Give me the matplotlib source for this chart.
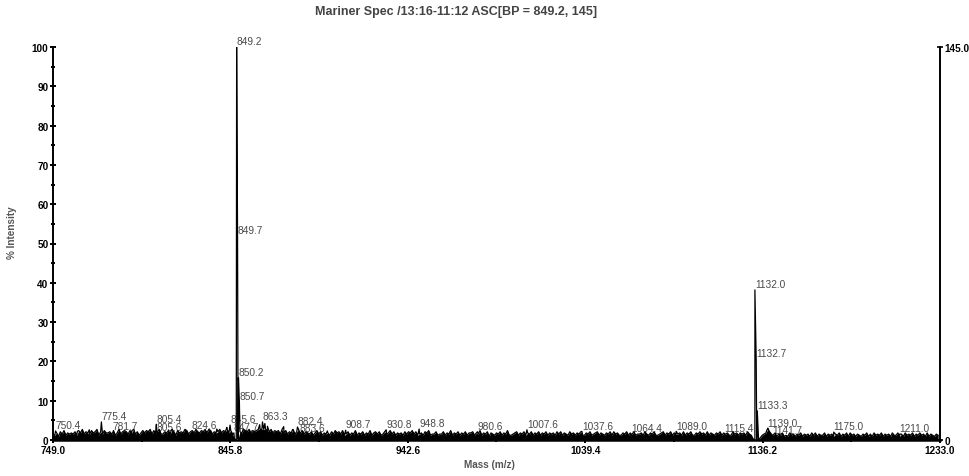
import matplotlib
matplotlib.use('Agg')
import matplotlib.pyplot as plt
import numpy as np

plt.rcParams['font.family'] = ['Liberation Sans', 'DejaVu Sans']

# baseline noise, one digit per m/z unit starting at 749, unit = 0.3 %
NOISE_START = 749
NOISE_UNIT = 0.3
noise_digits = (
    "5463758465" "6574869576" "5867947586" "6758469578" "7586957468"
    "6879586795" "5768597486" "7698578697" "6879698576" "7968796851"
    "0176987968" "7899999879" "6878596857" "6957968576" "5746857465"
    "6475867584" "5746584657" "4658467574" "5756857465" "6475768574"
    "5647684557" "4557465846" "5746574667" "4658465736" "5465746584"
    "4567465746" "5746574657" "4656475746" "5475646574" "4657456746"
    "5465747564" "4657465745" "5647546574" "4567465746" "5564746574"
    "4657564746" "5465746564" "4756465647" "5410002456" "9754635463"
    "4364535463" "5453646354" "4635453546" "3546364535" "4354635364"
    "5463545364" "4635364546" "3546453635" "4354"
)

# labelled peaks (m/z, % intensity)
peak_mz = [750.4, 775.4, 781.7, 805.4, 805.6, 824.6, 845.6, 847.7,
           849.2, 849.7, 850.2, 850.7, 863.3, 882.4, 883.6, 908.7,
           930.8, 948.8, 980.6, 1007.6, 1037.6, 1064.4, 1089.0, 1115.4,
           1132.0, 1132.7, 1133.3, 1139.0, 1141.7, 1175.0, 1211.0]
peak_int = [2.3, 4.6, 2.0, 4.0, 1.8, 2.3, 3.8, 1.8,
            100.0, 52.0, 15.8, 9.7, 4.6, 3.3, 1.7, 2.5,
            2.6, 2.8, 2.1, 2.6, 2.2, 1.5, 2.2, 1.6,
            38.2, 20.6, 7.4, 3.0, 1.2, 2.0, 1.5]

# unlabelled spikes
spike_mz = [762.3, 768.8, 792.1, 813.5, 838.4, 843.9, 861.8, 864.6,
            866.0, 874.9, 879.7, 898.7, 1138.6]
spike_int = [2.2, 2.6, 2.4, 2.5, 2.8, 3.2, 3.9, 4.2,
             3.5, 3.4, 2.6, 2.3, 2.6]

x_ticks = [749.0, 845.8, 942.6, 1039.4, 1136.2, 1233.0]
title = "Mariner Spec /13:16-11:12 ASC[BP = 849.2, 145]"
base_peak = 145.0

noise = np.array([int(c) for c in noise_digits]) * NOISE_UNIT
noise_mz = NOISE_START + np.arange(len(noise))

mz = np.concatenate([noise_mz, peak_mz, spike_mz])
inten = np.concatenate([noise, peak_int, spike_int])
order = np.argsort(mz, kind='stable')
mz, inten = mz[order], inten[order]

W, H = 970, 477
fig = plt.figure(figsize=(W / 100, H / 100), dpi=100)
ax = fig.add_axes([53 / W, 1 - 441 / H, 887 / W, 393 / H])

ax.fill_between(noise_mz, 0, noise, color='black', lw=0, zorder=2)
ax.plot(mz, inten, color='black', lw=0.9, zorder=3)

for m, v in zip(peak_mz, peak_int):
    ax.annotate("{:.1f}".format(m), (m, v), xytext=(0, 0.5),
                textcoords='offset points', ha='left', va='bottom',
                fontsize=7.3, color='#4a4a4a', zorder=1)

ax.set_xlim(x_ticks[0], x_ticks[-1])
ax.set_ylim(0, 100)
ax.set_xticks(x_ticks)
ax.set_xticklabels(["{:.1f}".format(t) for t in x_ticks])
ax.set_xticks([(a + b) / 2 for a, b in zip(x_ticks[:-1], x_ticks[1:])], minor=True)
ax.set_yticks(range(0, 101, 10))
ax.set_yticks(range(5, 100, 10), minor=True)

for s in ['top', 'right']:
    ax.spines[s].set_visible(False)
ax.spines['left'].set_linewidth(1.4)
ax.spines['bottom'].set_linewidth(1.8)

ax.tick_params(axis='both', which='major', direction='inout', length=4.5,
               width=1.4, labelsize=7.2, pad=1)
ax.tick_params(axis='both', which='minor', direction='inout', length=2.5,
               width=1.4)
for lab in ax.get_xticklabels() + ax.get_yticklabels():
    lab.set_fontweight('bold')

ax2 = ax.twinx()
ax2.set_ylim(0, base_peak)
ax2.set_yticks([0, base_peak])
ax2.set_yticklabels(['0', '{:.1f}'.format(base_peak)])
for s in ['top', 'left', 'bottom']:
    ax2.spines[s].set_visible(False)
ax2.spines['right'].set_linewidth(1.4)
ax2.tick_params(axis='y', direction='inout', length=4, width=1.2,
                labelsize=7.2, pad=1)
for lab in ax2.get_yticklabels():
    lab.set_fontweight('bold')

fig.text(315 / W, 1 - 12 / H, title, ha='left', va='center',
         fontsize=9, fontweight='bold', color='#444444')
fig.text(489 / W, 1 - 465 / H, "Mass (m/z)", ha='center', va='center',
         fontsize=7.2, fontweight='bold', color='#555555')
fig.text(12 / W, 1 - 233 / H, "% Intensity", ha='center', va='center',
         rotation=90, fontsize=7.2, fontweight='bold', color='#555555')

fig.savefig('out.png', dpi=100)
